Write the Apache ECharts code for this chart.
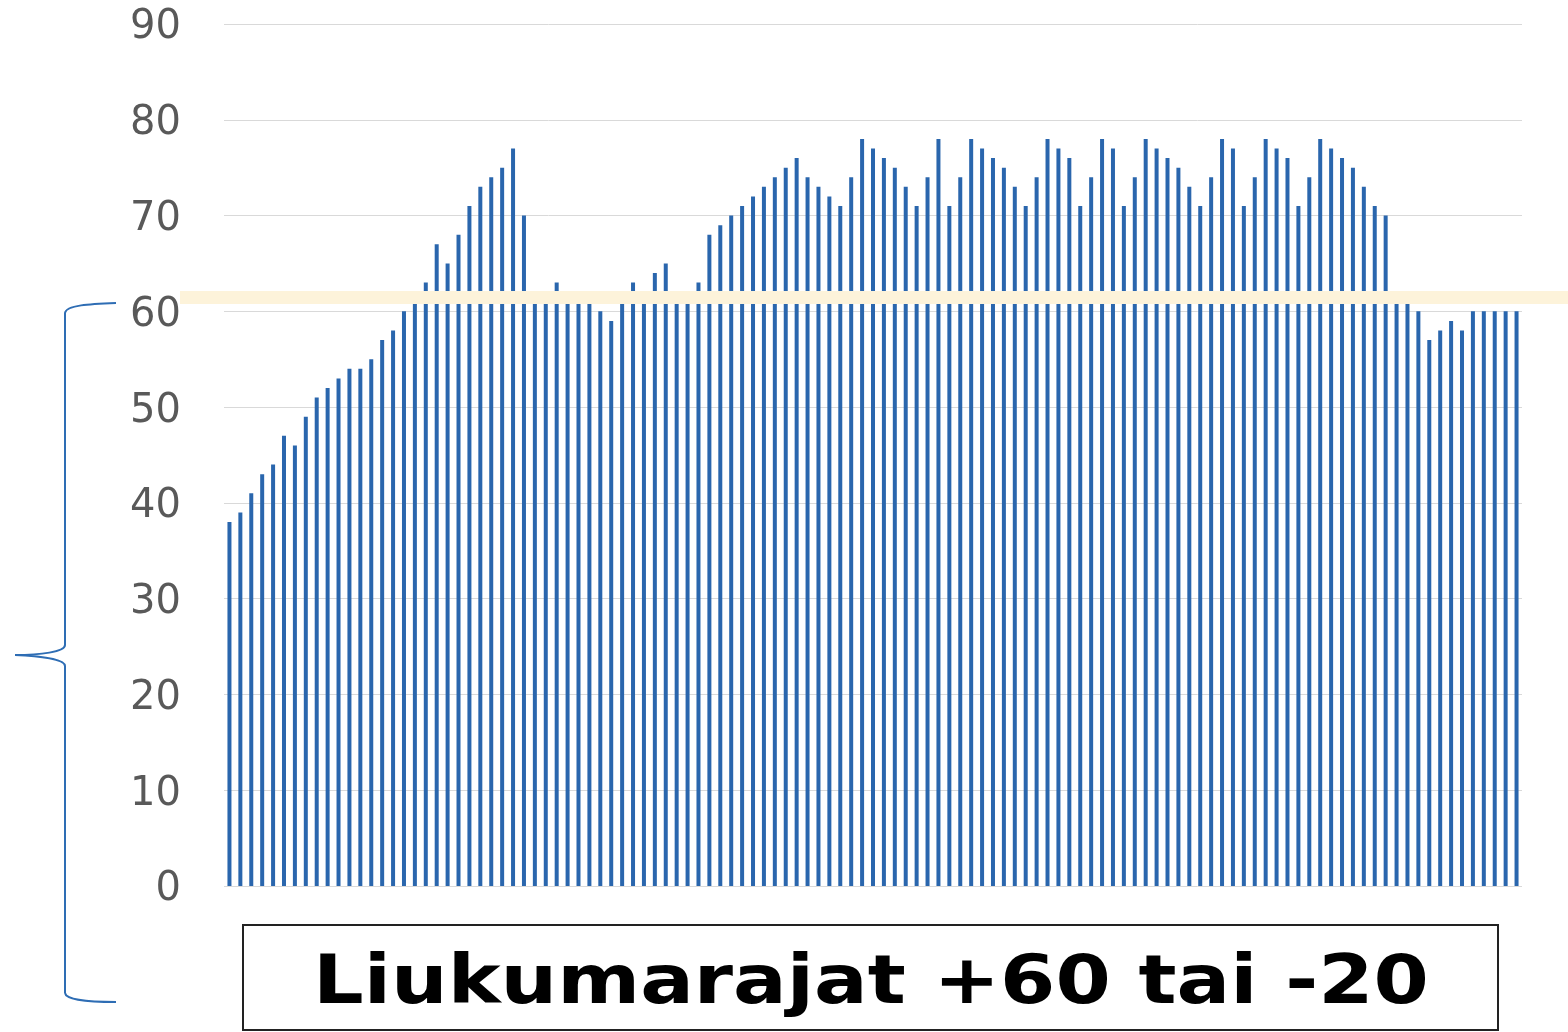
<!DOCTYPE html>
<html>
<head>
<meta charset="utf-8">
<script src="https://cdn.jsdelivr.net/npm/echarts@6/dist/echarts.min.js"></script>
<style>
  html, body { margin: 0; padding: 0; background: #fff; }
  #chart { width: 1568px; height: 1032px; }
</style>
</head>
<body>
<div id="chart"></div>
<script>
// y-axis ticks
const yTicks = [0, 10, 20, 30, 40, 50, 60, 70, 80, 90];

// one value per bar (left to right)
const values = [
  38, 39, 41, 43, 44, 47, 46, 49, 51, 52,
  53, 54, 54, 55, 57, 58, 60, 61, 63, 67,
  65, 68, 71, 73, 74, 75, 77, 70, 61, 61,
  63, 61, 61, 61, 60, 59, 61, 63, 61, 64,
  65, 61, 61, 63, 68, 69, 70, 71, 72, 73,
  74, 75, 76, 74, 73, 72, 71, 74, 78, 77,
  76, 75, 73, 71, 74, 78, 71, 74, 78, 77,
  76, 75, 73, 71, 74, 78, 77, 76, 71, 74,
  78, 77, 71, 74, 78, 77, 76, 75, 73, 71,
  74, 78, 77, 71, 74, 78, 77, 76, 71, 74,
  78, 77, 76, 75, 73, 71, 70, 61, 61, 60,
  57, 58, 59, 58, 60, 60, 60, 60, 60
];
const categories = values.map((v, i) => String(i + 1));

const caption = 'Liukumarajat +60 tai -20';

const chart = echarts.init(document.getElementById('chart'));

// brace pieces (left annotation)
const braceStyle = { stroke: '#2e6db4', lineWidth: 2, fill: 'none' };
function curve(x1, y1, c1x, c1y, c2x, c2y, x2, y2) {
  return {
    type: 'bezierCurve',
    z: 100,
    shape: { x1: x1, y1: y1, cpx1: c1x, cpy1: c1y, cpx2: c2x, cpy2: c2y, x2: x2, y2: y2 },
    style: braceStyle,
  };
}
function seg(x1, y1, x2, y2) {
  return {
    type: 'line',
    z: 100,
    shape: { x1: x1, y1: y1, x2: x2, y2: y2 },
    style: braceStyle,
  };
}

chart.setOption({
  animation: false,
  grid: {
    left: 224,
    top: 24,
    width: 1298,
    height: 862,
    containLabel: false,
  },
  xAxis: {
    type: 'category',
    data: categories,
    axisLine: { show: false },
    axisTick: { show: false },
    axisLabel: { show: false },
    splitLine: { show: false },
  },
  yAxis: {
    type: 'value',
    min: yTicks[0],
    max: yTicks[yTicks.length - 1],
    interval: 10,
    axisLine: { show: false },
    axisTick: { show: false },
    axisLabel: {
      margin: 43,
      formatter: '{n|{value}}',
      rich: {
        n: {
          color: '#595959',
          fontFamily: 'DejaVu Sans',
          fontSize: 40,
          padding: [8, 0, 0, 0],
        },
      },
    },
    splitLine: {
      lineStyle: { color: '#d9d9d9', width: 1 },
    },
  },
  series: [
    {
      type: 'bar',
      data: values,
      barWidth: 4,
      itemStyle: { color: '#2a66ad' },
    },
  ],
  graphic: [
    // cream highlight stripe across the chart
    {
      type: 'rect',
      z: 100,
      shape: { x: 180, y: 291, width: 1388, height: 13 },
      style: { fill: '#fdf3da' },
    },
    // curly brace on the left
    curve(116, 303, 90, 304, 66, 305, 65, 313),
    seg(65, 313, 65, 645),
    curve(65, 645, 65, 652, 40, 655, 15, 655),
    curve(15, 655, 40, 656, 65, 659, 65, 666),
    seg(65, 666, 65, 993),
    curve(65, 993, 66, 1000, 90, 1002, 116, 1002),
    // caption box
    {
      type: 'rect',
      z: 100,
      shape: { x: 243, y: 925, width: 1255, height: 105 },
      style: { fill: '#fff', stroke: '#222', lineWidth: 2 },
    },
    {
      type: 'text',
      z: 101,
      x: 871,
      y: 985,
      scaleX: 1.17,
      style: {
        text: caption,
        fill: '#000',
        fontFamily: 'DejaVu Sans',
        fontWeight: 'bold',
        fontSize: 68,
        align: 'center',
        verticalAlign: 'middle',
      },
    },
  ],
});
</script>
</body>
</html>
